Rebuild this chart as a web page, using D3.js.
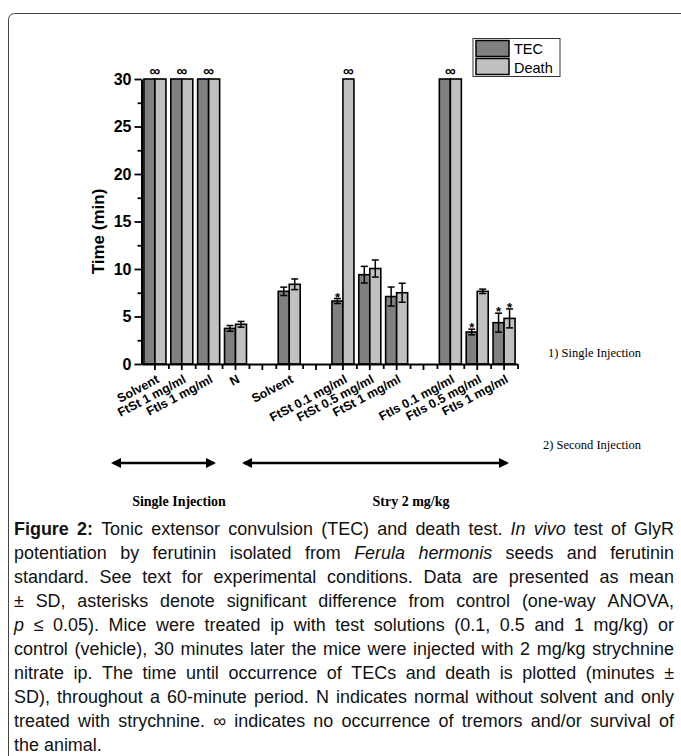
<!DOCTYPE html>
<html>
<head>
<meta charset="utf-8">
<script src="https://cdnjs.cloudflare.com/ajax/libs/d3/7.8.5/d3.min.js"></script>
<style>
  body { margin: 0; background: #fff; }
  svg { display: block; }
</style>
</head>
<body>
<div id="chart"></div>
<script>
// slots along the x axis, "" = empty gap
const categories = ["Solvent", "FtSt 1 mg/ml", "FtIs 1 mg/ml", "N", "", "Solvent", "",
    "FtSt 0.1 mg/ml", "FtSt 0.5 mg/ml", "FtSt 1 mg/ml", "", "FtIs 0.1 mg/ml", "FtIs 0.5 mg/ml", "FtIs 1 mg/ml"];
const seriesNames = ["TEC", "Death"];
// null = no bar, Infinity = no occurrence (drawn up to axis top)
const tecValues   = [Infinity, Infinity, Infinity, 3.75, null, 7.65, null, 6.63, 9.4, 7.1, null, Infinity, 3.37, 4.35];
const tecSD       = [0, 0, 0, 0.3, null, 0.44, null, 0.26, 0.88, 1.0, null, 0, 0.3, 1.0];
const deathValues = [Infinity, Infinity, Infinity, 4.18, null, 8.39, null, Infinity, 10.05, 7.5, null, Infinity, 7.65, 4.8];
const deathSD     = [0, 0, 0, 0.3, null, 0.56, null, 0, 0.9, 1.0, null, 0, 0.23, 1.0];
const tecStar     = [false, false, false, false, false, false, false, true, false, false, false, false, true, true];
const deathStar   = [false, false, false, false, false, false, false, false, false, false, false, false, false, true];
const yTicks = [0, 5, 10, 15, 20, 25, 30];
const yMinorTicks = [2.5, 7.5, 12.5, 17.5, 22.5, 27.5];
const colors = { TEC: "#808080", Death: "#c0c0c0" };

const captionLines = [
    [["Figure 2:", "b"], [" Tonic extensor convulsion (TEC) and death test. "], ["In vivo", "i"], [" test of GlyR"]],
    [["potentiation by ferutinin isolated from "], ["Ferula hermonis", "i"], [" seeds and ferutinin"]],
    [["standard. See text for experimental conditions. Data are presented as mean"]],
    [["± SD, asterisks denote significant difference from control (one-way ANOVA,"]],
    [["p", "i"], [" ≤ 0.05). Mice were treated ip with test solutions (0.1, 0.5 and 1 mg/kg) or"]],
    [["control (vehicle), 30 minutes later the mice were injected with 2 mg/kg strychnine"]],
    [["nitrate ip. The time until occurrence of TECs and death is plotted (minutes ±"]],
    [["SD), throughout a 60-minute period. N indicates normal without solvent and only"]],
    [["treated with strychnine. ∞ indicates no occurrence of tremors and/or survival of"]],
    [["the animal."]]
];

const W = 681, H = 756;
const svg = d3.select("#chart").append("svg")
    .attr("width", W)
    .attr("height", H)
    .style("font-family", "'Liberation Sans', Arial, sans-serif");

// outer frame (runs off the right and bottom edges)
svg.append("rect")
    .attr("x", 8.5).attr("y", 13.5)
    .attr("width", 720).attr("height", 800)
    .attr("rx", 6)
    .attr("fill", "none")
    .attr("stroke", "#444")
    .attr("stroke-width", 1);

const x0 = 141.5, x1 = 517.5, yBottom = 364, yTop = 79;
const x = d3.scaleBand().domain(d3.range(categories.length)).range([x0, x1]).padding(0);
const groupW = 22;
const xInner = d3.scaleBand().domain(seriesNames).range([0, groupW]);
const xEdges = d3.scaleLinear().domain([0, categories.length]).range([x0, x1]);
const y = d3.scaleLinear().domain([0, 30]).range([yBottom, yTop]);

const rows = categories.map((c, i) => ({
    i,
    bars: [
        { key: "TEC", v: tecValues[i], sd: tecSD[i], star: tecStar[i] },
        { key: "Death", v: deathValues[i], sd: deathSD[i], star: deathStar[i] }
    ]
}));

const barX = (i, key) => x(i) + (x.bandwidth() - groupW) / 2 + xInner(key);
const valTop = v => v === Infinity ? y.domain()[1] : v;

const plot = svg.append("g");

rows.forEach(r => {
    r.bars.forEach(b => {
        if (b.v === null) return;
        const bx = barX(r.i, b.key), bw = xInner.bandwidth();
        plot.append("rect")
            .attr("x", bx).attr("y", y(valTop(b.v)))
            .attr("width", bw).attr("height", y(0) - y(valTop(b.v)))
            .attr("fill", colors[b.key])
            .attr("stroke", "#000")
            .attr("stroke-width", 1.6);
        const cx = bx + bw / 2;
        let topY = y(valTop(b.v));
        if (b.v !== Infinity && b.sd > 0) {
            const hi = y(b.v + b.sd), lo = y(b.v - b.sd);
            plot.append("line").attr("x1", cx).attr("x2", cx).attr("y1", hi).attr("y2", lo)
                .attr("stroke", "#000").attr("stroke-width", 1.5);
            [hi, lo].forEach(yy => plot.append("line")
                .attr("x1", cx - 3.5).attr("x2", cx + 3.5).attr("y1", yy).attr("y2", yy)
                .attr("stroke", "#000").attr("stroke-width", 1.5));
            topY = hi;
        }
        if (b.star) {
            plot.append("text")
                .attr("x", cx).attr("y", topY + 3)
                .attr("text-anchor", "middle")
                .attr("font-size", 13)
                .attr("font-weight", "bold")
                .text("*");
        }
    });
    // infinity marks
    const inf = r.bars.filter(b => b.v === Infinity);
    if (inf.length === 2) {
        plot.append("text")
            .attr("x", x(r.i) + x.bandwidth() / 2).attr("y", y(30) - 3)
            .attr("text-anchor", "middle").attr("font-size", 15).attr("font-weight", "bold")
            .text("∞");
    } else if (inf.length === 1) {
        plot.append("text")
            .attr("x", barX(r.i, inf[0].key) + xInner.bandwidth() / 2).attr("y", y(30) - 3)
            .attr("text-anchor", "middle").attr("font-size", 15).attr("font-weight", "bold")
            .text("∞");
    }
});

// axes
const yAxis = svg.append("g")
    .attr("transform", `translate(${x0},0)`)
    .call(d3.axisLeft(y).tickValues(yTicks).tickSize(7).tickSizeOuter(0).tickPadding(3));
svg.append("g")
    .attr("transform", `translate(${x0},0)`)
    .call(d3.axisLeft(y).tickValues(yMinorTicks).tickSize(4).tickFormat(""))
    .call(g => g.select(".domain").remove());
yAxis.selectAll("text")
    .attr("font-size", 16).attr("font-weight", "bold").attr("fill", "#000")
    .attr("font-family", "'Liberation Sans', Arial, sans-serif");

const xAxis = svg.append("g")
    .attr("transform", `translate(0,${yBottom})`)
    .call(d3.axisBottom(x).tickSize(6).tickSizeOuter(0).tickFormat(i => categories[i]));
svg.append("g")
    .attr("transform", `translate(0,${yBottom})`)
    .call(d3.axisBottom(xEdges).tickValues(d3.range(1, categories.length + 1)).tickSize(5).tickFormat(""))
    .call(g => g.select(".domain").remove());
xAxis.selectAll("text")
    .attr("x", 0).attr("y", 0).attr("dy", "0.35em")
    .attr("transform", "translate(3,14) rotate(-28)")
    .attr("text-anchor", "end")
    .attr("font-size", 12.5).attr("font-weight", "bold").attr("fill", "#000")
    .attr("font-family", "'Liberation Sans', Arial, sans-serif");

svg.selectAll(".domain").attr("stroke", "#000").attr("stroke-width", 2);
svg.selectAll(".tick line").attr("stroke", "#000").attr("stroke-width", 1.8);

svg.append("text")
    .attr("transform", `translate(104,${(yTop + yBottom) / 2 + 10}) rotate(-90)`)
    .attr("text-anchor", "middle")
    .attr("font-size", 17).attr("font-weight", "bold")
    .text("Time (min)");

// legend
const lg = svg.append("g").attr("transform", "translate(473,38.5)");
lg.append("rect").attr("width", 87).attr("height", 38).attr("fill", "#fff")
    .attr("stroke", "#333").attr("stroke-width", 1);
seriesNames.forEach((s, k) => {
    lg.append("rect").attr("x", 3).attr("y", 2 + k * 18).attr("width", 33).attr("height", 16)
        .attr("fill", colors[s]).attr("stroke", "#000").attr("stroke-width", 1.5);
    lg.append("text").attr("x", 41).attr("y", 15.5 + k * 18.5)
        .attr("font-size", 14.5).text(s);
});

// annotations
const serif = "'Liberation Serif', 'Times New Roman', serif";
svg.append("text").attr("x", 548).attr("y", 357).attr("font-family", serif)
    .attr("font-size", 12.5).text("1) Single Injection");
svg.append("text").attr("x", 543).attr("y", 449).attr("font-family", serif)
    .attr("font-size", 12.5).text("2) Second Injection");

const defs = svg.append("defs");
defs.append("marker").attr("id", "ah").attr("viewBox", "0 0 10 10")
    .attr("refX", 8).attr("refY", 5).attr("markerWidth", 4).attr("markerHeight", 4)
    .attr("orient", "auto-start-reverse").attr("markerUnits", "strokeWidth")
    .append("path").attr("d", "M0,0 L10,5 L0,10 Z").attr("fill", "#000");
[[113, 214], [244, 507]].forEach(([a, b]) => {
    svg.append("line").attr("x1", a).attr("x2", b).attr("y1", 463).attr("y2", 463)
        .attr("stroke", "#000").attr("stroke-width", 2.5)
        .attr("marker-start", "url(#ah)").attr("marker-end", "url(#ah)");
});
svg.append("text").attr("x", 179).attr("y", 506).attr("text-anchor", "middle")
    .attr("font-family", serif).attr("font-weight", "bold").attr("font-size", 14).text("Single Injection");
svg.append("text").attr("x", 411).attr("y", 506).attr("text-anchor", "middle")
    .attr("font-family", serif).attr("font-weight", "bold").attr("font-size", 14).text("Stry 2 mg/kg");

// caption, justified word by word
const capL = 14, capR = 674, capY0 = 535, capStep = 24, capSize = 18.5, capSx = 0.97;
const cap = svg.append("g").attr("font-size", capSize).attr("fill", "#111");
const measure = (s, style) => {
    const t = cap.append("text").attr("font-weight", style === "b" ? "bold" : null)
        .attr("font-style", style === "i" ? "italic" : null).text(s);
    const w = t.node().getComputedTextLength();
    t.remove();
    return w;
};
const spaceW = measure("a a") - measure("aa");
captionLines.forEach((segs, li) => {
    const words = [];
    segs.forEach(([txt, st]) => txt.split(" ").filter(w => w.length).forEach(w => words.push({ w, st })));
    words.forEach(d => d.width = measure(d.w, d.st));
    const total = d3.sum(words, d => d.width);
    const last = li === captionLines.length - 1;
    const avail = (capR - capL) / capSx;
    let gap = last ? spaceW : (avail - total) / (words.length - 1);
    let sx = capSx;
    if (gap < spaceW * 0.6) {
        gap = spaceW * 0.6;
        sx = capSx * avail / (total + gap * (words.length - 1));
    }
    const lineG = cap.append("g")
        .attr("transform", `translate(${capL},${capY0 + li * capStep}) scale(${sx},1)`);
    let cx = 0;
    words.forEach(d => {
        lineG.append("text").attr("x", cx).attr("y", 0)
            .attr("font-weight", d.st === "b" ? "bold" : null)
            .attr("font-style", d.st === "i" ? "italic" : null)
            .text(d.w);
        cx += d.width + gap;
    });
});
</script>
</body>
</html>
